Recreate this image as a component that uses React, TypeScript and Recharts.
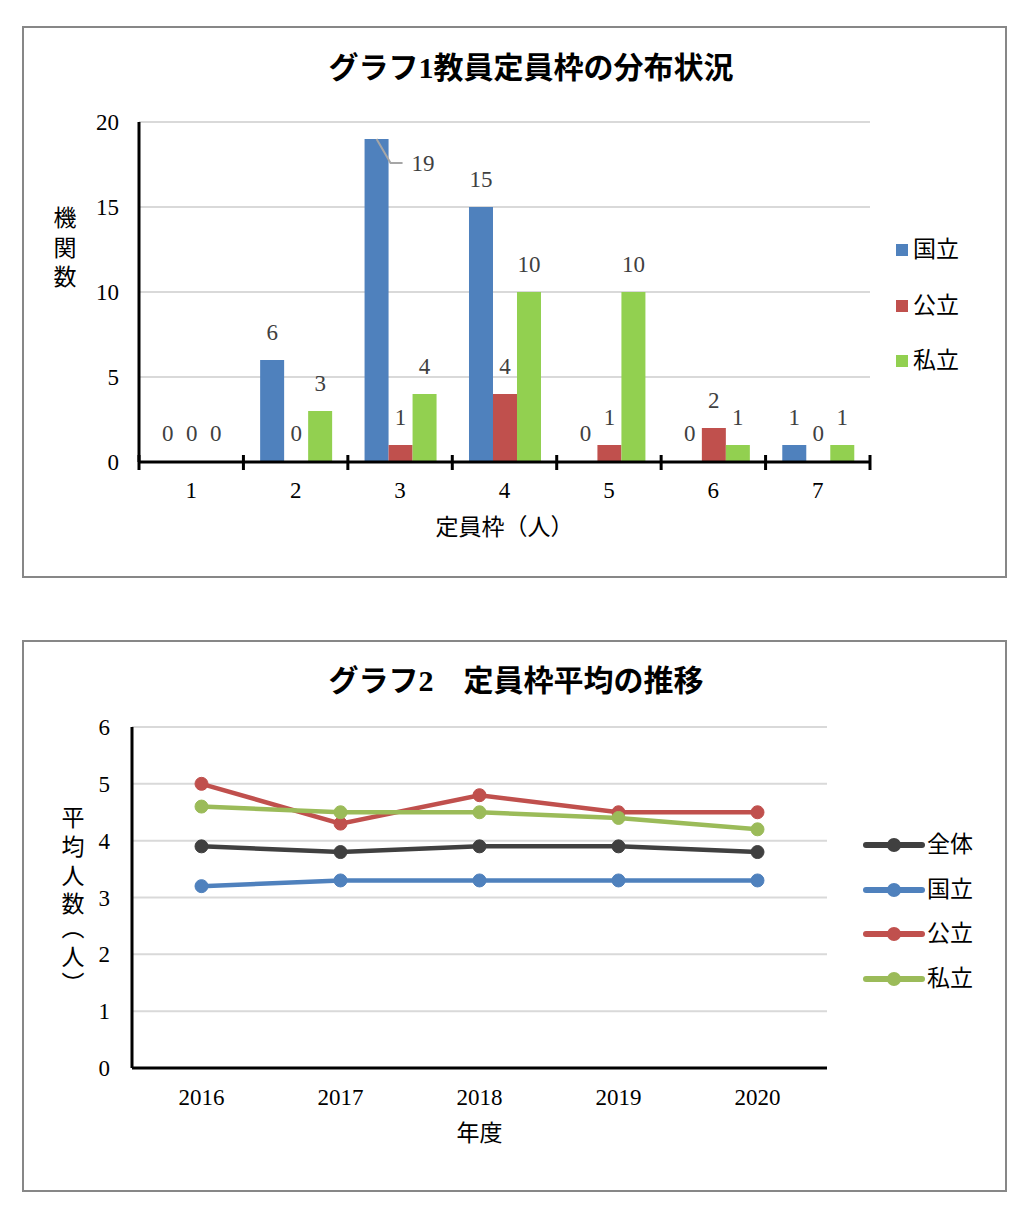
import React from 'react';
import { BarChart, Bar, XAxis, YAxis, CartesianGrid, Legend, LineChart, Line } from 'recharts';

const FONT = "'Liberation Serif', 'Noto Sans CJK JP', serif";

// ---- Chart 1 data ----
const teiinCategories = ['1', '2', '3', '4', '5', '6', '7'];
const kokuritsuCounts = [0, 6, 19, 15, 0, 0, 1];
const kouritsuCounts = [0, 0, 1, 4, 1, 2, 0];
const shiritsuCounts = [0, 3, 4, 10, 10, 1, 1];
const chart1Ticks = [0, 5, 10, 15, 20];
const chart1Series = ['国立', '公立', '私立'];

// ---- Chart 2 data ----
const years = ['2016', '2017', '2018', '2019', '2020'];
const zentaiAvg = [3.9, 3.8, 3.9, 3.9, 3.8];
const kokuritsuAvg = [3.2, 3.3, 3.3, 3.3, 3.3];
const kouritsuAvg = [5.0, 4.3, 4.8, 4.5, 4.5];
const shiritsuAvg = [4.6, 4.5, 4.5, 4.4, 4.2];
const chart2Ticks = [0, 1, 2, 3, 4, 5, 6];
const chart2Series = ['全体', '国立', '公立', '私立'];

const C_BLUE = '#4f81bd';
const C_RED = '#c0504d';
const C_GREEN1 = '#92d050';
const C_GREEN2 = '#9bbb59';
const C_DARK = '#404040';

// layout (svg coords)
const L1 = { W: 981, H: 548, left: 115, top: 94, right: 846, bottom: 434 };
const L2 = { W: 981, H: 548, left: 108, top: 85, right: 803, bottom: 426 };

const FS = 23;

const renderBarLabel = (props: any) => {
  const { x, y, width, height, value } = props;
  const cx = Number(x) + Number(width) / 2;
  const top = Number(y) + Math.min(0, Number(height) || 0);
  if (Number(value) >= 18) {
    return (
      <g>
        <polyline
          points={`${cx},${top} ${cx + 14},${top + 24} ${cx + 26},${top + 24}`}
          fill="none"
          stroke="#a6a6a6"
          strokeWidth={2}
        />
        <text x={cx + 35} y={top + 24} dominantBaseline="central" fontFamily={FONT} fontSize={FS} fill={C_DARK}>
          {String(value)}
        </text>
      </g>
    );
  }
  return (
    <text x={cx} y={top - 28} textAnchor="middle" dominantBaseline="central" fontFamily={FONT} fontSize={FS} fill={C_DARK}>
      {String(value)}
    </text>
  );
};

const BoundaryTick = (props: any) => {
  const { x, y, payload, index, visibleTicksCount } = props;
  const half = payload && typeof payload.offset === 'number' && payload.offset > 0 ? payload.offset : (L1.right - L1.left) / teiinCategories.length / 2;
  const xs = [x - half];
  if (index === visibleTicksCount - 1) xs.push(x + half);
  return (
    <g>
      {xs.map((lx, i) => (
        <line key={i} x1={lx} x2={lx} y1={y - 7} y2={y + 8} stroke="#000" strokeWidth={3} />
      ))}
      <text x={x} y={y + 28} textAnchor="middle" dominantBaseline="central" fontFamily={FONT} fontSize={FS} fill="#000">
        {payload.value}
      </text>
    </g>
  );
};

const YearTick = (props: any) => {
  const { x, y, payload } = props;
  return (
    <text x={x} y={y + 29} textAnchor="middle" dominantBaseline="central" fontFamily={FONT} fontSize={FS} fill="#000">
      {payload.value}
    </text>
  );
};

const VerticalTitle = ({ chars, x, ys }: { chars: string[]; x: number; ys: number[] }) => (
  <g>
    {chars.map((c, i) => (
      <text key={i} x={x} y={ys[i]} textAnchor="middle" dominantBaseline="central" fontFamily={FONT} fontSize={FS} fill="#000">
        {c}
      </text>
    ))}
  </g>
);

const yTitle1 = () => <VerticalTitle chars={['機', '関', '数']} x={41} ys={[190, 220, 249]} />;
const xTitle1 = () => (
  <text x={(L1.left + L1.right) / 2} y={L1.bottom + 65} textAnchor="middle" dominantBaseline="central" fontFamily={FONT} fontSize={FS} fill="#000">
    定員枠（人）
  </text>
);
const yTitle2 = () => (
  <VerticalTitle chars={['平', '均', '人', '数', '︵', '人', '︶']} x={49} ys={[176, 205, 234, 262, 286, 315, 342]} />
);
const xTitle2 = () => (
  <text x={(L2.left + L2.right) / 2} y={L2.bottom + 65} textAnchor="middle" dominantBaseline="central" fontFamily={FONT} fontSize={FS} fill="#000">
    年度
  </text>
);

const orderPayload = (payload: any[], order: string[]) =>
  [...payload].sort((a, b) => order.indexOf(String(a.value)) - order.indexOf(String(b.value)));

const BarLegend = (props: any) => {
  const payload = orderPayload(props.payload || [], chart1Series);
  return (
    <div style={{ fontFamily: FONT, fontSize: FS, color: '#000' }}>
      {payload.map((p: any, i: number) => (
        <div key={i} style={{ display: 'flex', alignItems: 'center', height: 55.5 }}>
          <span style={{ display: 'inline-block', width: 12, height: 12, background: p.color, marginRight: 5 }} />
          <span style={{ lineHeight: '24px' }}>{p.value}</span>
        </div>
      ))}
    </div>
  );
};

const LineLegend = (props: any) => {
  const payload = orderPayload(props.payload || [], chart2Series);
  return (
    <div style={{ fontFamily: FONT, fontSize: FS, color: '#000' }}>
      {payload.map((p: any, i: number) => (
        <div key={i} style={{ display: 'flex', alignItems: 'center', height: 44.7 }}>
          <svg width={62} height={18} style={{ display: 'block', marginRight: 2 }}>
            <line x1={3} x2={59} y1={9} y2={9} stroke={p.color} strokeWidth={6} strokeLinecap="round" />
            <circle cx={31} cy={9} r={7} fill={p.color} />
          </svg>
          <span style={{ lineHeight: '24px' }}>{p.value}</span>
        </div>
      ))}
    </div>
  );
};

const titleStyle = (left: number, top: number): React.CSSProperties => ({
  position: 'absolute',
  left,
  top,
  width: 600,
  height: 40,
  lineHeight: '40px',
  textAlign: 'center',
  fontFamily: FONT,
  fontSize: 30,
  fontWeight: 'bold',
  color: '#000',
  zIndex: 2,
  whiteSpace: 'nowrap',
});

const boxStyle = (top: number): React.CSSProperties => ({
  position: 'absolute',
  left: 22,
  top,
  width: 985,
  height: 552,
  border: '2px solid #878787',
  boxSizing: 'border-box',
  background: '#fff',
});

export default function App() {
  const barData = teiinCategories.map((c, i) => ({
    cat: c,
    kokuritsu: kokuritsuCounts[i],
    kouritsu: kouritsuCounts[i],
    shiritsu: shiritsuCounts[i],
  }));
  const lineData = years.map((y, i) => ({
    year: y,
    zentai: zentaiAvg[i],
    kokuritsu: kokuritsuAvg[i],
    kouritsu: kouritsuAvg[i],
    shiritsu: shiritsuAvg[i],
  }));

  const axisTick = { fontFamily: FONT, fontSize: FS, fill: '#000' };

  return (
    <div style={{ position: 'absolute', left: 0, top: 0, width: 1024, height: 1221, background: '#fff', fontFamily: FONT }}>
      {/* Chart 1 */}
      <div style={boxStyle(26)}>
        <div style={titleStyle(531 - 24 - 300, 67.5 - 28 - 20)}>グラフ1教員定員枠の分布状況</div>
        <BarChart
          width={L1.W}
          height={L1.H}
          data={barData}
          margin={{ top: L1.top, right: L1.W - L1.right, left: L1.left - 60, bottom: L1.H - L1.bottom - 80 }}
          barCategoryGap="16%"
          barGap={0}
        >
          <CartesianGrid horizontal vertical={false} stroke="#d9d9d9" strokeWidth={2} />
          <Bar dataKey="kokuritsu" name="国立" fill={C_BLUE} minPointSize={0.01} isAnimationActive={false} label={renderBarLabel} />
          <Bar dataKey="kouritsu" name="公立" fill={C_RED} minPointSize={0.01} isAnimationActive={false} label={renderBarLabel} />
          <Bar dataKey="shiritsu" name="私立" fill={C_GREEN1} minPointSize={0.01} isAnimationActive={false} label={renderBarLabel} />
          <XAxis
            dataKey="cat"
            height={80}
            interval={0}
            tickLine={false}
            tickSize={0}
            tickMargin={0}
            axisLine={{ stroke: '#000', strokeWidth: 3 }}
            tick={<BoundaryTick />}
            label={xTitle1}
          />
          <XAxis xAxisId="top" orientation="top" dataKey="cat" height={0} tick={false} tickLine={false} axisLine={{ stroke: '#000', strokeWidth: 3 }} />
          <YAxis
            width={60}
            domain={[0, 20]}
            ticks={chart1Ticks}
            interval={0}
            tickLine={false}
            tickSize={0}
            tickMargin={20}
            axisLine={{ stroke: '#000', strokeWidth: 3 }}
            tick={axisTick}
            label={yTitle1}
          />
          <YAxis yAxisId="right" orientation="right" width={0} domain={[0, 20]} tick={false} tickLine={false} axisLine={{ stroke: '#000', strokeWidth: 3 }} />
          <Legend
            layout="vertical"
            align="center"
            verticalAlign="middle"
            content={<BarLegend />}
            wrapperStyle={{ left: 872, top: 194.25, width: 100 }}
          />
        </BarChart>
      </div>

      {/* Chart 2 */}
      <div style={boxStyle(640)}>
        <div style={titleStyle(516 - 24 - 300, 680.5 - 642 - 20)}>グラフ2　定員枠平均の推移</div>
        <LineChart
          width={L2.W}
          height={L2.H}
          data={lineData}
          margin={{ top: L2.top, right: L2.W - L2.right, left: L2.left - 60, bottom: L2.H - L2.bottom - 80 }}
        >
          <CartesianGrid horizontal vertical={false} stroke="#d9d9d9" strokeWidth={2} />
          <XAxis
            dataKey="year"
            height={80}
            interval={0}
            padding={{ left: (L2.right - L2.left) / 10, right: (L2.right - L2.left) / 10 }}
            tickLine={false}
            tickSize={0}
            tickMargin={0}
            axisLine={{ stroke: '#000', strokeWidth: 3 }}
            tick={<YearTick />}
            label={xTitle2}
          />
          <XAxis xAxisId="top" orientation="top" dataKey="year" height={0} tick={false} tickLine={false} axisLine={{ stroke: '#000', strokeWidth: 3 }} />
          <YAxis
            width={60}
            domain={[0, 6]}
            ticks={chart2Ticks}
            interval={0}
            tickLine={false}
            tickSize={0}
            tickMargin={22}
            axisLine={{ stroke: '#000', strokeWidth: 3 }}
            tick={axisTick}
            label={yTitle2}
          />
          <YAxis yAxisId="right" orientation="right" width={0} domain={[0, 6]} tick={false} tickLine={false} axisLine={{ stroke: '#000', strokeWidth: 3 }} />
          <Line dataKey="zentai" name="全体" stroke={C_DARK} strokeWidth={4.5} dot={{ r: 6.5, fill: C_DARK, stroke: C_DARK, strokeWidth: 1 }} activeDot={false} isAnimationActive={false} />
          <Line dataKey="kokuritsu" name="国立" stroke={C_BLUE} strokeWidth={4.5} dot={{ r: 6.5, fill: C_BLUE, stroke: C_BLUE, strokeWidth: 1 }} activeDot={false} isAnimationActive={false} />
          <Line dataKey="kouritsu" name="公立" stroke={C_RED} strokeWidth={4.5} dot={{ r: 6.5, fill: C_RED, stroke: C_RED, strokeWidth: 1 }} activeDot={false} isAnimationActive={false} />
          <Line dataKey="shiritsu" name="私立" stroke={C_GREEN2} strokeWidth={4.5} dot={{ r: 6.5, fill: C_GREEN2, stroke: C_GREEN2, strokeWidth: 1 }} activeDot={false} isAnimationActive={false} />
          <Legend
            layout="vertical"
            align="center"
            verticalAlign="middle"
            content={<LineLegend />}
            wrapperStyle={{ left: 839, top: 180.7, width: 130 }}
          />
        </LineChart>
      </div>
    </div>
  );
}
